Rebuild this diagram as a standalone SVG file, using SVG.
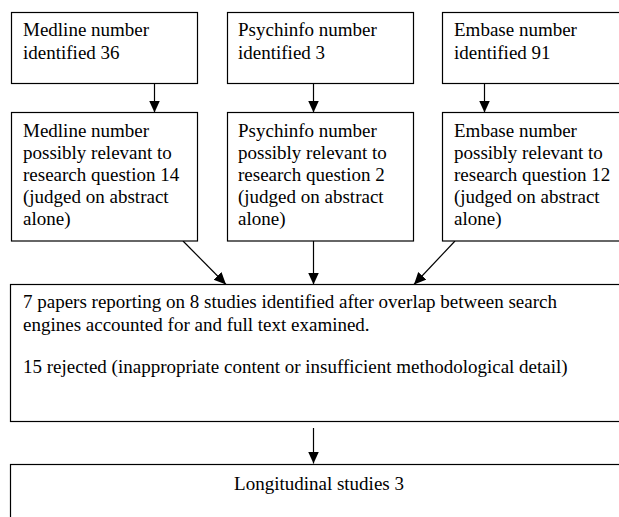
<svg xmlns="http://www.w3.org/2000/svg" width="619" height="517" viewBox="0 0 619 517">
<style>
.box{fill:#fff;stroke:#000;stroke-width:1.2}
.t{font-family:"Liberation Serif","Times New Roman",serif;font-size:19px;fill:#000}
.c{stroke:#000;stroke-width:1.2;fill:none;marker-end:url(#ah)}
</style>
<defs>
<marker id="ah" markerUnits="userSpaceOnUse" markerWidth="13" markerHeight="12" refX="12" refY="5.5" orient="auto">
<path d="M0,0 L12,5.5 L0,11 z" fill="#000"/>
</marker>
</defs>
<rect x="0" y="0" width="619" height="517" fill="#fff"/>
<g id="connectors">
<line class="c" x1="154.5" y1="83.5" x2="154.5" y2="112.5"/>
<line class="c" x1="313.5" y1="83.5" x2="313.5" y2="112.5"/>
<line class="c" x1="484.5" y1="83.5" x2="484.5" y2="112.5"/>
<line class="c" x1="183" y1="241" x2="226" y2="284.5"/>
<line class="c" x1="313.5" y1="241" x2="313.5" y2="284.5"/>
<line class="c" x1="455" y1="241" x2="414" y2="284.5"/>
<line class="c" x1="313.5" y1="428" x2="313.5" y2="463.5"/>
</g>
<g id="medline-identified">
<rect class="box" x="11.5" y="12.5" width="186" height="71"/>
<text class="t" x="23" y="36">Medline number</text>
<text class="t" x="23" y="59">identified 36</text>
</g>
<g id="psychinfo-identified">
<rect class="box" x="227.5" y="12.5" width="186" height="71"/>
<text class="t" x="238" y="36">Psychinfo number</text>
<text class="t" x="238" y="59">identified 3</text>
</g>
<g id="embase-identified">
<rect class="box" x="442.5" y="12.5" width="186" height="71"/>
<text class="t" x="454" y="36">Embase number</text>
<text class="t" x="454" y="59">identified 91</text>
</g>
<g id="medline-relevant">
<rect class="box" x="11.5" y="112.5" width="186" height="128.5"/>
<text class="t" x="23" y="136.5">Medline number</text>
<text class="t" x="23" y="158.5">possibly relevant to</text>
<text class="t" x="23" y="180.5">research question 14</text>
<text class="t" x="23" y="202.5">(judged on abstract</text>
<text class="t" x="23" y="224.5">alone)</text>
</g>
<g id="psychinfo-relevant">
<rect class="box" x="227.5" y="112.5" width="186" height="128.5"/>
<text class="t" x="238" y="136.5">Psychinfo number</text>
<text class="t" x="238" y="158.5">possibly relevant to</text>
<text class="t" x="238" y="180.5">research question 2</text>
<text class="t" x="238" y="202.5">(judged on abstract</text>
<text class="t" x="238" y="224.5">alone)</text>
</g>
<g id="embase-relevant">
<rect class="box" x="442.5" y="112.5" width="186" height="128.5"/>
<text class="t" x="454" y="136.5">Embase number</text>
<text class="t" x="454" y="158.5">possibly relevant to</text>
<text class="t" x="454" y="180.5">research question 12</text>
<text class="t" x="454" y="202.5">(judged on abstract</text>
<text class="t" x="454" y="224.5">alone)</text>
</g>
<g id="papers-identified">
<rect class="box" x="10.5" y="284.5" width="620" height="137"/>
<text class="t" x="23" y="308">7 papers reporting on 8 studies identified after overlap between search</text>
<text class="t" x="23" y="331">engines accounted for and full text examined.</text>
<text class="t" x="23" y="373">15 rejected (inappropriate content or insufficient methodological detail)</text>
</g>
<g id="longitudinal">
<rect class="box" x="10.5" y="464.5" width="620" height="80"/>
<text class="t" x="319" y="490" text-anchor="middle">Longitudinal studies 3</text>
</g>
</svg>
